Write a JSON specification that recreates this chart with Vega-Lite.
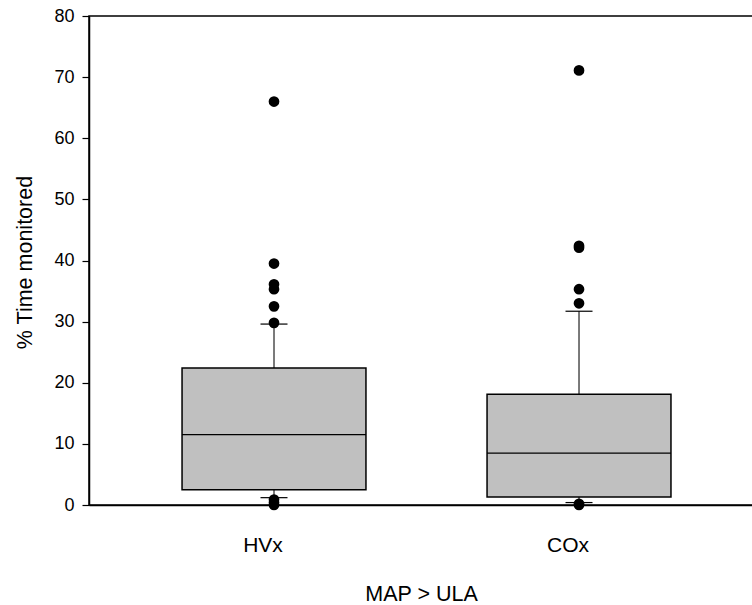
{
  "$schema": "https://vega.github.io/schema/vega-lite/v6.json",
  "width": 664,
  "height": 489,
  "autosize": {"type": "none"},
  "padding": {"left": 89, "top": 16, "right": 0, "bottom": 100},
  "background": "white",
  "config": {
    "view": {"stroke": "black", "strokeWidth": 1.5},
    "font": "Liberation Sans",
    "axis": {"grid": false, "domainColor": "black", "domainWidth": 1.5, "tickColor": "black", "labelColor": "black", "titleColor": "black", "titleFontWeight": "normal", "labelFont": "Liberation Sans", "titleFont": "Liberation Sans"}
  },
  "datasets": {
    "boxes": [
      {"group": "HVx", "lower": 1.2, "q1": 2.5, "median": 11.5, "q3": 22.4, "upper": 29.6},
      {"group": "COx", "lower": 0.4, "q1": 1.3, "median": 8.5, "q3": 18.1, "upper": 31.7}
    ],
    "outliers": [
      {"group": "HVx", "value": 66.0},
      {"group": "HVx", "value": 39.5},
      {"group": "HVx", "value": 36.1},
      {"group": "HVx", "value": 35.3},
      {"group": "HVx", "value": 32.5},
      {"group": "HVx", "value": 29.8},
      {"group": "HVx", "value": 0.9},
      {"group": "HVx", "value": 0.4},
      {"group": "HVx", "value": 0.0},
      {"group": "COx", "value": 71.1},
      {"group": "COx", "value": 42.4},
      {"group": "COx", "value": 42.1},
      {"group": "COx", "value": 35.3},
      {"group": "COx", "value": 33.0},
      {"group": "COx", "value": 0.2},
      {"group": "COx", "value": 0.0}
    ]
  },
  "encoding": {
    "x": {
      "field": "group",
      "type": "nominal",
      "sort": ["HVx", "COx"],
      "scale": {"paddingInner": 0, "paddingOuter": 0.0885, "align": 0.602},
      "axis": {
        "title": "MAP > ULA",
        "titleFontSize": 21.5,
        "titleY": 89,
        "titleBaseline": "middle",
        "labelAngle": 0,
        "labelFontSize": 21,
        "ticks": false,
        "labelPadding": 40,
        "labelBaseline": "middle",
        "labelOffset": -11
      }
    }
  },
  "layer": [
    {
      "data": {"name": "boxes"},
      "mark": {"type": "rule", "color": "#222222", "strokeWidth": 1.2},
      "encoding": {
        "y": {
          "field": "lower",
          "type": "quantitative",
          "scale": {"domain": [0, 80], "nice": false, "zero": false},
          "axis": {
            "title": "% Time monitored",
            "titleFontSize": 21.5,
            "titleX": -64,
            "titleY": 246,
            "titleBaseline": "middle",
            "titleAngle": 270,
            "values": [0, 10, 20, 30, 40, 50, 60, 70, 80],
            "labelFontSize": 18,
            "tickSize": 7,
            "tickWidth": 1.2,
            "labelPadding": 8
          }
        },
        "y2": {"field": "upper"}
      }
    },
    {
      "data": {"name": "boxes"},
      "mark": {"type": "bar", "fill": "#c0c0c0", "stroke": "black", "strokeWidth": 1.5, "width": {"band": 0.603}},
      "encoding": {
        "y": {"field": "q1", "type": "quantitative"},
        "y2": {"field": "q3"}
      }
    },
    {
      "data": {"name": "boxes"},
      "mark": {"type": "tick", "color": "black", "thickness": 1.3, "opacity": 1},
      "encoding": {
        "y": {"field": "median", "type": "quantitative"},
        "size": {"value": 184}
      }
    },
    {
      "data": {"name": "boxes"},
      "mark": {"type": "tick", "color": "black", "thickness": 1.2, "opacity": 1},
      "encoding": {
        "y": {"field": "upper", "type": "quantitative"},
        "size": {"value": 27}
      }
    },
    {
      "data": {"name": "boxes"},
      "mark": {"type": "tick", "color": "black", "thickness": 1.2, "opacity": 1},
      "encoding": {
        "y": {"field": "lower", "type": "quantitative"},
        "size": {"value": 27}
      }
    },
    {
      "data": {"name": "outliers"},
      "mark": {"type": "point", "filled": true, "color": "black", "opacity": 1, "size": 115},
      "encoding": {
        "y": {"field": "value", "type": "quantitative"}
      }
    }
  ]
}
